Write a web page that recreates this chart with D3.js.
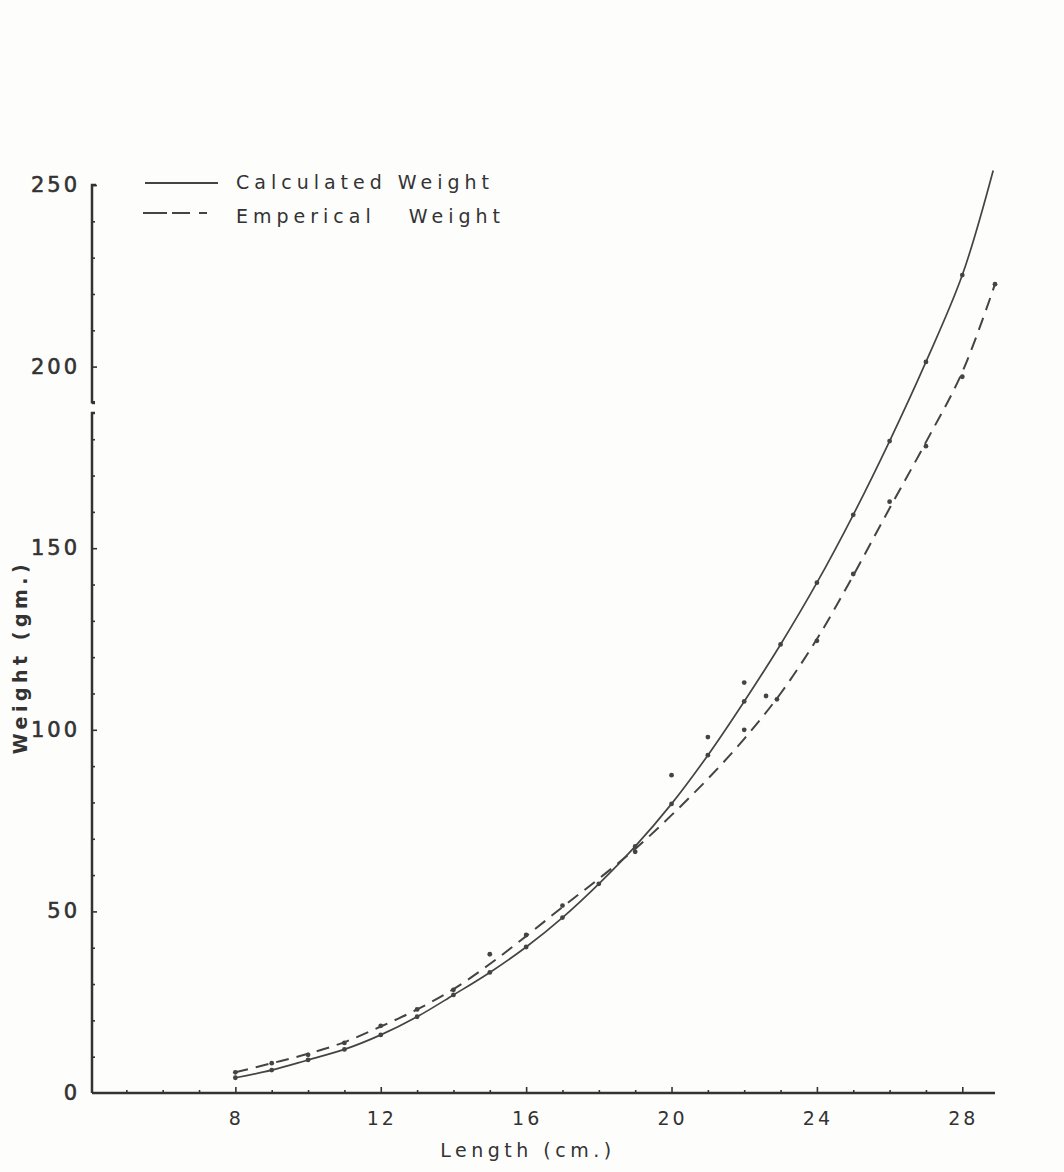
<!DOCTYPE html>
<html>
<head>
<meta charset="utf-8">
<script src="https://cdn.jsdelivr.net/npm/d3@7"></script>
<style>
    body { margin: 0; background: #fdfdfc; }
</style>
</head>
<body>
<div id="chart"></div>
<script>
// calculated weight (solid curve) at each length
let calcLength = [8, 9, 10, 11, 12, 13, 14, 15, 16, 17, 18, 19, 20, 21, 22, 23, 24, 25, 26, 27, 28, 28.85];
let calcWeight = [4.2, 6.3, 9.1, 12.0, 16.0, 21.0, 27.0, 33.2, 40.2, 48.3, 57.6, 67.9, 79.6, 93.0, 107.8, 123.5, 140.5, 159.2, 179.5, 201.3, 225.2, 254];

// emperical weight (dashed curve)
let empLength = [8, 9, 10, 11, 12, 13, 14, 15, 16, 17, 18, 19, 20, 21, 22, 23, 24, 25, 26, 27, 28, 28.9];
let empWeight = [5.7, 8.2, 10.8, 14.0, 18.3, 23.0, 28.6, 35.5, 43.2, 51.2, 59.0, 67.2, 76.5, 86.5, 97.5, 110.0, 125.0, 142.5, 161.0, 179.2, 198.5, 222.7];

// observed points around the dashed curve
let dotLength = [8, 9, 10, 11, 12, 13, 14, 15, 16, 17, 19, 20, 21, 22, 22, 22.6, 22.9, 24, 25, 26, 27, 28, 28.9];
let dotWeight = [5.7, 8.2, 10.5, 13.8, 18.5, 23.0, 28.4, 38.2, 43.5, 51.6, 66.4, 87.5, 98.0, 100.0, 113.0, 109.3, 108.4, 124.5, 142.9, 162.8, 178.1, 197.2, 222.7];

let xTicks = [8, 12, 16, 20, 24, 28];
let yTicks = [0, 50, 100, 150, 200, 250];
let legendLabels = ['Calculated Weight', 'Emperical   Weight'];

let width = 1064;
let height = 1172;
let ink = '#333';
let pen = '#444';

let x = d3.scaleLinear()
    .domain([4, 28.9])
    .range([90, 995]);

let y = d3.scaleLinear()
    .domain([0, 250])
    .range([1093, 185]);

let svg = d3.select('#chart')
    .append('svg')
    .attr('width', width)
    .attr('height', height)
    .style('font-family', 'DejaVu Sans');

// x axis: tick every cm, longer at labelled ones
let xAxis = g => g
    .attr('transform', `translate(0,${y(0)})`)
    .call(d3.axisBottom(x)
        .tickValues(d3.range(5, 29))
        .tickSize(-3)
        .tickFormat(''))
    .call(g => g.select('.domain')
        .attr('d', `M${x(4) + 2},0H${x(28.9)}`)
        .attr('stroke', ink)
        .attr('stroke-width', 2.5))
    .call(g => g.selectAll('.tick line')
        .attr('stroke', ink)
        .attr('stroke-width', 1.6)
        .attr('y2', d => xTicks.includes(d) ? -6 : -3));

svg.append('g').call(xAxis);

svg.append('g')
    .selectAll('text')
    .data(xTicks)
    .enter()
    .append('text')
    .attr('x', d => x(d) + 1)
    .attr('y', y(0) + 32)
    .attr('text-anchor', 'middle')
    .attr('fill', ink)
    .style('font-size', '19px')
    .style('letter-spacing', '3px')
    .text(d => d);

// y axis: tick every 10, broken just below 200
let yAxis = g => g
    .attr('transform', `translate(${x(4) + 2},0)`)
    .call(d3.axisLeft(y)
        .tickValues(d3.range(10, 251, 10))
        .tickSize(-3)
        .tickFormat(''))
    .call(g => g.select('.domain')
        .attr('d', `M4,${y(250)}H0V${y(190.2)}h3M3,${y(187.2)}h-3V${y(0)}`)
        .attr('fill', 'none')
        .attr('stroke', ink)
        .attr('stroke-width', 2.5))
    .call(g => g.selectAll('.tick line')
        .attr('stroke', ink)
        .attr('stroke-width', 1.6)
        .attr('x2', d => d % 50 === 0 ? 5 : 3));

svg.append('g').call(yAxis);

svg.append('g')
    .selectAll('text')
    .data(yTicks)
    .enter()
    .append('text')
    .attr('x', 80)
    .attr('y', d => y(d) + 1)
    .attr('text-anchor', 'end')
    .attr('dominant-baseline', 'middle')
    .attr('fill', ink)
    .attr('stroke', ink)
    .attr('stroke-width', 0.6)
    .style('font-size', '21px')
    .style('letter-spacing', '3px')
    .text(d => d);

// axis titles
svg.append('text')
    .attr('x', 528)
    .attr('y', 1157)
    .attr('text-anchor', 'middle')
    .attr('fill', ink)
    .style('font-size', '19px')
    .style('letter-spacing', '4.5px')
    .text('Length (cm.)');

svg.append('text')
    .attr('transform', `translate(27, 657) rotate(270)`)
    .attr('text-anchor', 'middle')
    .attr('fill', ink)
    .style('font-size', '19px')
    .style('font-weight', 'bold')
    .style('letter-spacing', '4.5px')
    .text('Weight (gm.)');

// curves
let line = d3.line()
    .x(d => x(d[0]))
    .y(d => y(d[1]))
    .curve(d3.curveCatmullRom);

let calc = calcLength.map((d, i) => [d, calcWeight[i]]);
let emp = empLength.map((d, i) => [d, empWeight[i]]);
let dots = dotLength.map((d, i) => [d, dotWeight[i]]);

svg.append('path')
    .datum(calc)
    .attr('d', line)
    .attr('fill', 'none')
    .attr('stroke', pen)
    .attr('stroke-width', 1.7);

svg.append('path')
    .datum(emp)
    .attr('d', line)
    .attr('fill', 'none')
    .attr('stroke', pen)
    .attr('stroke-width', 2)
    .attr('stroke-dasharray', '13 8');

svg.selectAll('circle.calc')
    .data(calc.slice(0, -1))
    .enter()
    .append('circle')
    .attr('class', 'calc')
    .attr('cx', d => x(d[0]))
    .attr('cy', d => y(d[1]))
    .attr('r', 2.4)
    .attr('fill', pen);

svg.selectAll('circle.emp')
    .data(dots)
    .enter()
    .append('circle')
    .attr('class', 'emp')
    .attr('cx', d => x(d[0]))
    .attr('cy', d => y(d[1]))
    .attr('r', 2.4)
    .attr('fill', pen);

// legend
let legend = svg.append('g');

legend.append('line')
    .attr('x1', 145)
    .attr('x2', 218)
    .attr('y1', 183)
    .attr('y2', 183)
    .attr('stroke', pen)
    .attr('stroke-width', 2);

legend.append('line')
    .attr('x1', 143)
    .attr('x2', 216)
    .attr('y1', 213)
    .attr('y2', 213)
    .attr('stroke', pen)
    .attr('stroke-width', 2)
    .attr('stroke-dasharray', '24 5 18 9 8 40');

legend.selectAll('text')
    .data(legendLabels)
    .enter()
    .append('text')
    .attr('x', 236)
    .attr('y', (d, i) => 189 + i * 34)
    .attr('fill', ink)
    .style('font-size', '19px')
    .style('letter-spacing', '5px')
    .style('white-space', 'pre')
    .text(d => d);
</script>
</body>
</html>
